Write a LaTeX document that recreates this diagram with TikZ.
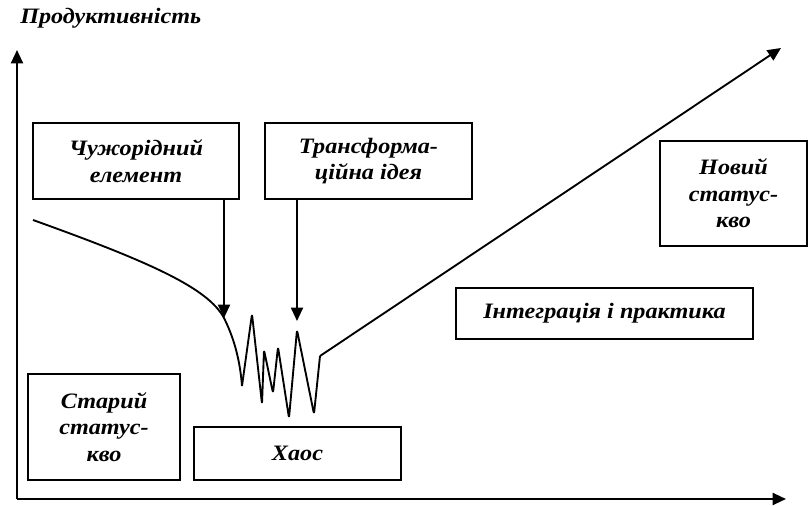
\documentclass[tikz,border=0pt]{standalone}
\usepackage{fontspec}
\setmainfont[FakeStretch=1.1]{Liberation Serif}
\usetikzlibrary{arrows.meta}
\begin{document}
\begin{tikzpicture}[x=0.75pt,y=-0.75pt,
  lbl/.style={font=\fontsize{16.5pt}{20pt}\selectfont\bfseries\itshape, align=center},
  box/.style={lbl, draw, line width=1.1pt, inner sep=0pt},
  ax/.style={line width=1.5pt, -{Triangle[length=10pt,width=9pt]}},
  arr/.style={line width=1.4pt, -{Triangle[length=10pt,width=9pt]}},
  crv/.style={line width=1.4pt, line join=round}]
\useasboundingbox (0,0) rectangle (808,506);
% axes
\coordinate (o) at (17,499);
\coordinate (ytip) at (17,50);
\coordinate (xtip) at (786,499);
\draw[ax] (o) -- (ytip);
\draw[ax] (o) -- (xtip);
\node[lbl, anchor=west, inner sep=0pt] (title) at (20,18) {Продуктивність};
% boxes
\node[box, minimum width=154.5pt, minimum height=57pt] (alien) at (136,161) {Чужорідний\\елемент};
\node[box, minimum width=155.25pt, minimum height=57pt] (idea) at (368.5,161) {Трансформа-\\ційна ідея};
\node[box, minimum width=110.25pt, minimum height=78.75pt] (new) at (733.5,193.5) {Новий\\статус-\\кво};
\node[box, minimum width=222.75pt, minimum height=38.25pt] (integ) at (604.5,313.5) {Інтеграція і практика};
\node[box, minimum width=114pt, minimum height=79.5pt] (old) at (104,427) {Старий\\статус-\\кво};
\node[box, minimum width=155.25pt, minimum height=39.75pt] (chaos) at (297.5,453.5) {Хаос};
% curve
\coordinate (c0) at (33,220);
\coordinate (hit1) at (224,318);
\coordinate (hit2) at (297,330);
\coordinate (cend) at (320,356);
\coordinate (tip) at (781,48);
\draw[crv] (c0) .. controls (150,262) and (208,288) .. (hit1)
  .. controls (234,338) and (240,360) .. (242,386);
\draw[crv, rounded corners=2pt] (242,386)
  -- (252,314) -- (262,404) -- (264,350) -- (273,393) -- (278,347)
  -- (289,418) -- (hit2) -- (314,414) -- (cend);
\draw[arr] (cend) -- (tip);
% arrows from boxes
\draw[arr] (alien.south -| hit1) -- (hit1);
\draw[arr] (idea.south -| 297,0) -- (297,321);
\end{tikzpicture}
\end{document}
